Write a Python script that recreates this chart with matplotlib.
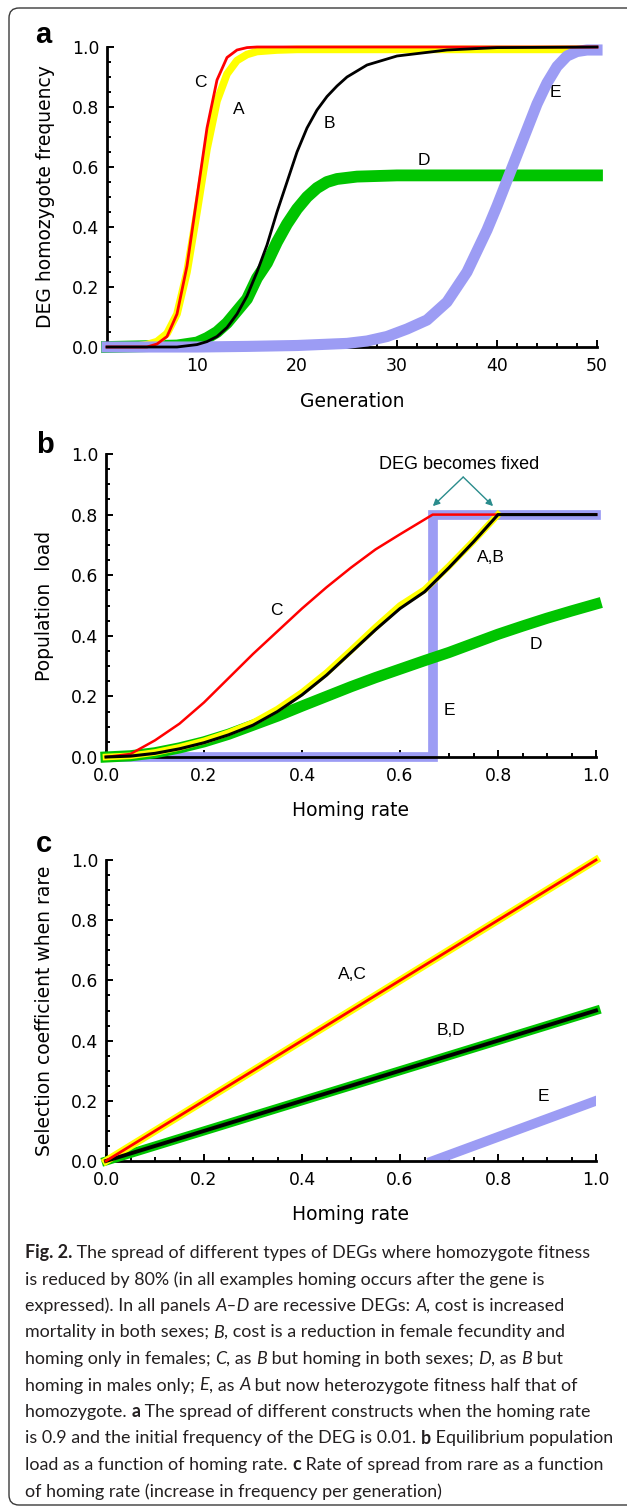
import numpy as np
import matplotlib
matplotlib.use("Agg")
import matplotlib.pyplot as plt
import matplotlib.transforms as mtransforms
from matplotlib.patches import FancyBboxPatch
from matplotlib.ticker import MultipleLocator
from matplotlib.font_manager import FontProperties

W, H = 627, 1508

# ---- panel a: DEG homozygote frequency vs generation
gen_A = [1, 3, 4, 5, 6, 7, 8, 9, 10, 11, 12, 13, 14, 15, 16, 18, 20, 50]
frq_A = [0, 0, 0.003, 0.008, 0.018, 0.045, 0.11, 0.25, 0.45, 0.66, 0.82, 0.91, 0.955, 0.975, 0.985, 0.99, 0.992, 0.992]
gen_B = [1, 8, 10, 11, 12, 13, 14, 15, 16, 17, 18, 19, 20, 21, 22, 23, 24, 25, 27, 30, 35, 40, 50]
frq_B = [0, 0, 0.008, 0.018, 0.035, 0.065, 0.11, 0.17, 0.25, 0.34, 0.45, 0.55, 0.65, 0.73, 0.79, 0.835, 0.87, 0.9, 0.94, 0.97, 0.99, 0.998, 1.0]
gen_C = [1, 5, 6, 7, 8, 9, 10, 11, 12, 13, 14, 15, 16, 50]
frq_C = [0, 0, 0.01, 0.035, 0.11, 0.27, 0.50, 0.73, 0.89, 0.965, 0.99, 0.998, 1.0, 1.0]
gen_D = [1, 8, 10, 11, 12, 13, 14, 15, 16, 17, 18, 19, 20, 21, 22, 23, 24, 26, 30, 50]
frq_D = [0, 0.005, 0.015, 0.03, 0.05, 0.08, 0.12, 0.16, 0.23, 0.28, 0.35, 0.41, 0.46, 0.5, 0.53, 0.55, 0.56, 0.568, 0.572, 0.572]
gen_E = [1, 10, 15, 20, 25, 27, 29, 31, 33, 35, 37, 38, 39, 40, 41, 42, 43, 44, 45, 46, 47, 48, 49, 50]
frq_E = [0, 0, 0.002, 0.005, 0.012, 0.02, 0.035, 0.06, 0.09, 0.15, 0.25, 0.32, 0.39, 0.47, 0.555, 0.64, 0.725, 0.81, 0.88, 0.935, 0.97, 0.985, 0.99, 0.99]

# ---- panel b: equilibrium population load vs homing rate
hr = [0, 0.05, 0.1, 0.15, 0.2, 0.25, 0.3, 0.35, 0.4, 0.45, 0.5, 0.55, 0.6, 0.65, 0.7, 0.75, 0.8, 0.85, 0.9, 0.95, 1.0]
hr_AB = [0, 0.05, 0.1, 0.15, 0.2, 0.25, 0.3, 0.35, 0.4, 0.45, 0.5, 0.55, 0.6, 0.65, 0.7, 0.75, 0.8]
load_A = [0, 0.004, 0.015, 0.032, 0.053, 0.08, 0.113, 0.158, 0.213, 0.278, 0.352, 0.428, 0.5, 0.552, 0.63, 0.713, 0.8]
hr_B = [0, 0.05, 0.1, 0.15, 0.2, 0.25, 0.3, 0.35, 0.4, 0.45, 0.5, 0.55, 0.6, 0.65, 0.7, 0.75, 0.8, 1.0]
load_B = [0, 0.003, 0.012, 0.027, 0.047, 0.073, 0.105, 0.15, 0.205, 0.27, 0.345, 0.42, 0.49, 0.545, 0.625, 0.71, 0.8, 0.8]
hr_C = [0, 0.05, 0.1, 0.15, 0.2, 0.25, 0.3, 0.35, 0.4, 0.45, 0.5, 0.55, 0.6, 0.6667, 1.0]
load_C = [0, 0.01, 0.055, 0.11, 0.18, 0.26, 0.34, 0.415, 0.49, 0.56, 0.625, 0.685, 0.735, 0.8, 0.8]
load_D = [0, 0.004, 0.014, 0.03, 0.05, 0.075, 0.105, 0.135, 0.168, 0.2, 0.232, 0.262, 0.29, 0.318, 0.345, 0.375, 0.405, 0.432, 0.458, 0.482, 0.505]
hr_E = [0, 0.6667, 0.6667, 1.0]
load_E = [0, 0, 0.8, 0.8]

# ---- panel c: selection coefficient when rare vs homing rate
hc = [0, 1.0]
sel_AC = [0, 1.0]
sel_BD = [0, 0.5]
hc_E = [0.6667, 1.0]
sel_E = [0, 0.2]

RED, YEL, GRN, BLU = "#ff0000", "#ffff00", "#00c400", "#9c9cf4"
TEAL = "#2a8c8c"

fig = plt.figure(figsize=(W / 100, H / 100), dpi=100)
px = mtransforms.Affine2D().scale(1, -1).translate(0, H).scale(1 / W, 1 / H) + fig.transFigure

fig.add_artist(FancyBboxPatch((9, 8), 630, 1497, boxstyle="round,pad=0,rounding_size=10",
                              transform=px, fc="none", ec="#3a3a3a", lw=1.0))


def panel(l, t, r, b):
    return fig.add_axes([l / W, 1 - b / H, (r - l) / W, (b - t) / H])


def style(ax, xmaj, xmin):
    for s in ["top", "right"]:
        ax.spines[s].set_visible(False)
    for s in ["left", "bottom"]:
        ax.spines[s].set_linewidth(2.0)
    ax.tick_params(which="both", direction="in", width=1.4, labelsize=12.4)
    ax.tick_params(which="major", length=5)
    ax.tick_params(which="minor", length=3)
    ax.tick_params(axis="x", which="both", pad=7.5)
    ax.tick_params(axis="y", which="both", pad=5.5)
    ax.xaxis.set_major_locator(MultipleLocator(xmaj))
    ax.xaxis.set_minor_locator(MultipleLocator(xmin))
    ax.yaxis.set_major_locator(MultipleLocator(0.2))
    ax.yaxis.set_minor_locator(MultipleLocator(0.05))
    ax.set_ylim(0, 1)


def labels(ax, xl, yl, xy, yx):
    ax.set_xlabel(xl, fontsize=13.5)
    ax.set_ylabel(yl, fontsize=13.5)
    ax.xaxis.set_label_coords(0.5, xy)
    ax.yaxis.set_label_coords(yx, 0.5)
    ax.xaxis.label.set_va("center")
    ax.yaxis.label.set_va("center")


LF = dict(family="Liberation Sans", fontsize=12.5, ha="center", va="center")

# panel a
ax = panel(107, 47, 597, 347)
style(ax, 10, 2)
ax.set_xlim(1, 50)
ax.plot(gen_D, frq_D, color=GRN, lw=8.5, clip_on=False, zorder=2)
ax.plot(gen_A, frq_A, color=YEL, lw=5.5, clip_on=False, zorder=3)
ax.plot(gen_E, frq_E, color=BLU, lw=8, clip_on=False, zorder=4)
ax.plot(gen_C, frq_C, color=RED, lw=2, clip_on=False, zorder=5)
ax.plot(gen_B, frq_B, color="black", lw=2, clip_on=False, zorder=6)
ax.text(10.3, 0.883, "C", **LF)
ax.text(14.2, 0.79, "A", **LF)
ax.text(23.2, 0.745, "B", **LF)
ax.text(32.7, 0.623, "D", **LF)
ax.text(45.8, 0.847, "E", **LF)
labels(ax, "Generation", "DEG homozygote frequency", -0.183, -0.1245)

# panel b
ax = panel(106, 454, 596, 757)
style(ax, 0.2, 0.05)
ax.set_xlim(0, 1)
ax.plot(hr_E, load_E, color=BLU, lw=7, clip_on=False, zorder=2, solid_joinstyle="miter")
ax.plot(hr, load_D, color=GRN, lw=8, clip_on=False, zorder=3)
ax.plot(hr_AB, load_A, color=YEL, lw=4.8, clip_on=False, zorder=4)
ax.plot(hr_C, load_C, color=RED, lw=1.8, clip_on=False, zorder=5)
ax.plot(hr_B, load_B, color="black", lw=2.2, clip_on=False, zorder=6)
ax.text(0.347, 0.485, "C", **LF)
ax.text(0.786, 0.657, "A,B", **LF)
ax.text(0.878, 0.37, "D", **LF)
ax.text(0.70, 0.155, "E", **LF)
ax.text(0.72, 0.964, "DEG becomes fixed", family="Liberation Sans", fontsize=13,
        ha="center", va="center")
for tx in (0.667, 0.79):
    ax.annotate("", xy=(tx, 0.828), xytext=(0.729, 0.924),
                arrowprops=dict(arrowstyle="-|>", color=TEAL, lw=1.0,
                                mutation_scale=10, shrinkA=0, shrinkB=0))
labels(ax, "Homing rate", "Population  load", -0.175, -0.1265)

# panel c
ax = panel(106, 860, 596, 1161)
style(ax, 0.2, 0.05)
ax.set_xlim(0, 1)
ax.plot(hc_E, sel_E, color=BLU, lw=7, zorder=2, solid_capstyle="projecting")
ax.plot(hc, sel_BD, color=GRN, lw=6.5, clip_on=False, zorder=3)
ax.plot(hc, sel_AC, color=YEL, lw=5.5, clip_on=False, zorder=3)
ax.plot(hc, sel_BD, color="black", lw=2.8, clip_on=False, zorder=5)
ax.plot(hc, sel_AC, color=RED, lw=2, clip_on=False, zorder=5)
ax.text(0.502, 0.618, "A,C", **LF)
ax.text(0.704, 0.435, "B,D", **LF)
ax.text(0.892, 0.213, "E", **LF)
labels(ax, "Homing rate", "Selection coefficient when rare", -0.179, -0.1245)

# panel letters
for letter, x0, yb in (("a", 35, 43), ("b", 36, 453), ("c", 36, 852)):
    fig.text(x0, yb, letter, transform=px, family="Liberation Sans", weight="bold",
             fontsize=21, ha="left", va="baseline")

# caption
caption = [
    [("Fig. 2.", "b"), (" The spread of different types of DEGs where homozygote fitness", "r")],
    [("is reduced by 80% (in all examples homing occurs after the gene is", "r")],
    [("expressed). In all panels ", "r"), ("A\u2013D", "i"), (" are recessive DEGs: ", "r"),
     ("A", "i"), (", cost is increased", "r")],
    [("mortality in both sexes; ", "r"), ("B", "i"), (", cost is a reduction in female fecundity and", "r")],
    [("homing only in females; ", "r"), ("C", "i"), (", as ", "r"), ("B", "i"),
     (" but homing in both sexes; ", "r"), ("D", "i"), (", as ", "r"), ("B", "i"), (" but", "r")],
    [("homing in males only; ", "r"), ("E", "i"), (", as ", "r"), ("A", "i"),
     (" but now heterozygote fitness half that of", "r")],
    [("homozygote. ", "r"), ("a", "b"), (" The spread of different constructs when the homing rate", "r")],
    [("is 0.9 and the initial frequency of the DEG is 0.01. ", "r"), ("b", "b"),
     (" Equilibrium population", "r")],
    [("load as a function of homing rate. ", "r"), ("c", "b"), (" Rate of spread from rare as a function", "r")],
    [("of homing rate (increase in frequency per generation)", "r")],
]

CAP_FONT = "Lato"
renderer = fig.canvas.get_renderer()


def fprops(st, size):
    return FontProperties(family=CAP_FONT, size=size,
                          weight="bold" if st == "b" else "normal",
                          style="italic" if st == "i" else "normal")


def seg_width(txt, st, size):
    fp = fprops(st, size)
    w1 = renderer.get_text_width_height_descent("x" + txt + "x", fp, ismath=False)[0]
    w0 = renderer.get_text_width_height_descent("xx", fp, ismath=False)[0]
    return w1 - w0


ref = 10.0
widest = max(sum(seg_width(t, s, ref) for t, s in segs) for segs in caption)
cap_size = ref * 588 / widest

for i, segs in enumerate(caption):
    x = 25.0
    y = 1258 + 26.5 * i
    for txt, st in segs:
        fig.text(x, y, txt, transform=px, fontproperties=fprops(st, cap_size),
                 color="#231f20", ha="left", va="baseline")
        x += seg_width(txt, st, cap_size)

fig.savefig("out.png", dpi=100)
